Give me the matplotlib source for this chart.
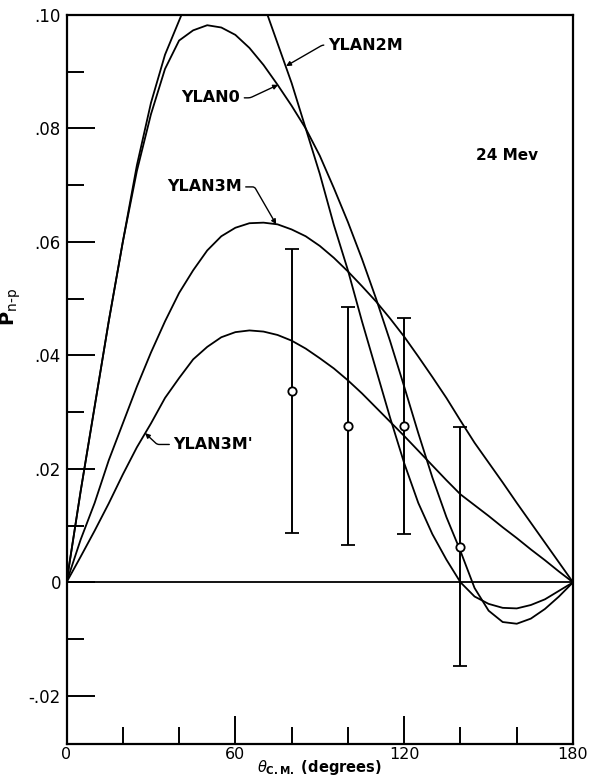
import matplotlib.pyplot as plt

# angles (degrees, c.m.) at which the curves were read
theta = list(range(0, 181, 5))

ylan2m = [0, .016, .031, .046, .060, .0735, .0845, .093, .099, .105, .110, .113,
          .112, .108, .102, .095, .088, .080, .072, .063, .055, .046, .0375, .029,
          .021, .014, .0085, .004, 0, -.0025, -.0038, -.0045, -.0046, -.004, -.003,
          -.0015, 0]
ylan0 = [0, .016, .031, .046, .060, .0725, .0825, .0905, .0955, .0973, .0982, .0978,
         .0965, .0942, .0912, .0877, .0840, .0800, .0752, .0695, .0635, .0570, .0500,
         .0425, .0345, .0263, .0185, .0115, .0055, -.0010, -.0050, -.0070, -.0073,
         -.0064, -.0047, -.0025, 0]
ylan3m = [0, .0075, .014, .0215, .028, .0345, .0405, .046, .051, .055, .0585, .061,
          .0625, .0633, .0634, .0631, .0622, .061, .0593, .0572, .0548, .0522, .0495,
          .0465, .0433, .0398, .0362, .0325, .0285, .0246, .0211, .0176, .014, .0105,
          .007, .0035, 0]
ylan3mp = [0, .0045, .0091, .0139, .019, .0238, .028, .0325, .036, .0393, .0415, .0432,
           .0441, .0444, .0442, .0436, .0426, .0412, .0395, .0377, .0356, .0333, .0308,
           .0283, .0258, .0232, .0206, .018, .0155, .0136, .0117, .0097, .0078, .0058,
           .0039, .0019, 0]

# measured points
theta_exp = [80, 100, 120, 140]
p_exp = [0.0337, 0.0276, 0.0276, 0.0063]
p_err = [0.025, 0.021, 0.019, 0.021]

xticks = [0, 60, 120, 180]
xtick_labels = ['0', '60', '120', '180']
yticks = [-0.02, 0, 0.02, 0.04, 0.06, 0.08, 0.10]
ytick_labels = ['-.02', '0', '.02', '.04', '.06', '.08', '.10']

fig = plt.figure(figsize=(6.02, 7.78), dpi=100)
ax = fig.add_axes([0.1105, 0.0437, 0.8414, 0.9370])

for curve in (ylan2m, ylan0, ylan3m, ylan3mp):
    ax.plot(theta, curve, color='black', lw=1.3)

ax.axhline(0, color='black', lw=1.3)

ax.errorbar(theta_exp, p_exp, yerr=p_err, fmt='o', color='black', mfc='white',
            mec='black', ms=6, mew=1.3, elinewidth=1.4, capsize=5, capthick=1.4)

ax.set_xlim(0, 180)
ax.set_ylim(-0.0285, 0.10)

ax.set_xticks(xticks)
ax.set_xticklabels(xtick_labels)
ax.set_xticks(range(20, 180, 20), minor=True)
ax.set_yticks(yticks)
ax.set_yticklabels(ytick_labels)
ax.set_yticks([-0.01, 0.01, 0.03, 0.05, 0.07, 0.09], minor=True)

ax.tick_params(which='both', direction='in', top=False, right=False, width=1.4,
               labelsize=12)
ax.tick_params(which='major', length=20, pad=4)
ax.tick_params(which='minor', length=12)
ax.tick_params(axis='x', which='major', pad=2, labelsize=11.5)
for s in ax.spines.values():
    s.set_linewidth(1.6)

ax.set_ylabel('P$_{\\mathrm{n‐p}}$', fontsize=14, fontweight='bold')
ax.yaxis.set_label_coords(-0.085, 0.60)
ax.set_xlabel('$\\theta_{\\mathbf{C.M.}}$ (degrees)', fontsize=10.5, fontweight='bold',
              labelpad=-3)

arrow = dict(arrowstyle='-|>', color='black', lw=1.0, mutation_scale=7,
             shrinkA=1, shrinkB=0)

ax.annotate('YLAN2M', xy=(78, 0.091), xytext=(92.9, 0.0947), fontsize=11.5,
            fontweight='bold', ha='left', va='center',
            arrowprops=dict(arrow, connectionstyle='angle,angleA=0,angleB=30,rad=2'))
ax.annotate('YLAN0', xy=(75.2, 0.0877), xytext=(61.7, 0.0854), fontsize=11.5,
            fontweight='bold', ha='right', va='center',
            arrowprops=dict(arrow, connectionstyle='angle,angleA=0,angleB=25,rad=2'))
ax.annotate('YLAN3M', xy=(74.5, 0.0631), xytext=(62.2, 0.0697), fontsize=11.5,
            fontweight='bold', ha='right', va='center',
            arrowprops=dict(arrow, connectionstyle='angle,angleA=0,angleB=-60,rad=2'))
ax.annotate("YLAN3M'", xy=(27.9, 0.0263), xytext=(38.0, 0.0243), fontsize=11.5,
            fontweight='bold', ha='left', va='center',
            arrowprops=dict(arrow, connectionstyle='angle,angleA=0,angleB=-43,rad=2'))

ax.text(145.6, 0.0753, '24 Mev', fontsize=11, fontweight='bold', ha='left',
        va='center')

fig.savefig('out.png', dpi=100)
